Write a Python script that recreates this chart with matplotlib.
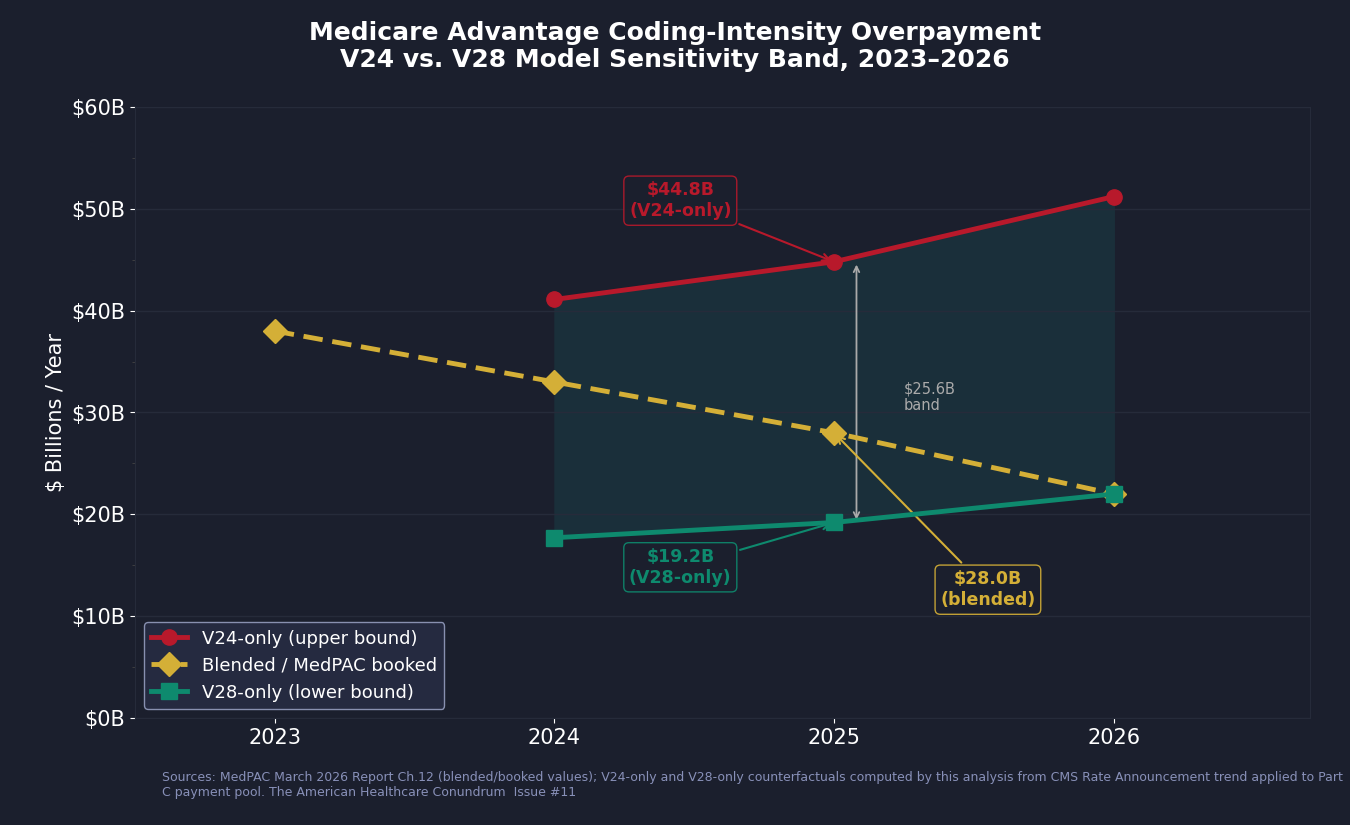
import matplotlib
matplotlib.use("Agg")
import matplotlib.pyplot as plt
from matplotlib.ticker import FuncFormatter, MultipleLocator

years_v24 = [2024, 2025, 2026]
v24 = [41.1, 44.8, 51.2]
years_bl = [2023, 2024, 2025, 2026]
blended = [38.0, 33.0, 28.0, 22.0]
years_v28 = [2024, 2025, 2026]
v28 = [17.7, 19.2, 22.0]

BG = "#1b1f2d"
RED = "#b8192b"; GOLD = "#d4af37"; GREEN = "#0e8a6e"
fig = plt.figure(figsize=(13.5, 8.25), dpi=100, facecolor=BG)
ax = fig.add_axes([0.1, 0.1297, 0.87, 0.7406], facecolor=BG)

ax.fill_between(years_v28, v28, v24, color="#1a2f3a", alpha=1.0, zorder=1)
ax.plot(years_v24, v24, color=RED, lw=3.5, marker="o", ms=11, label="V24-only (upper bound)", zorder=4)
ax.plot(years_bl, blended, color=GOLD, lw=3.5, ls=(0, (4, 2)), marker="D", ms=12, label="Blended / MedPAC booked", zorder=4)
ax.plot(years_v28, v28, color=GREEN, lw=3.5, marker="s", ms=11, label="V28-only (lower bound)", zorder=4)

ax.set_xlim(2022.5, 2026.7)
ax.set_ylim(0, 60)
ax.set_xticks([2023, 2024, 2025, 2026])
ax.yaxis.set_major_locator(MultipleLocator(10))
ax.yaxis.set_minor_locator(MultipleLocator(5))
ax.yaxis.set_major_formatter(FuncFormatter(lambda v, p: f"${v:.0f}B"))
ax.tick_params(colors="white", labelsize=15)
ax.tick_params(axis="y", which="minor", colors="#444")
ax.grid(axis="y", color="#262b3a", lw=1)
for s in ax.spines.values():
    s.set_color("#262b3a")
ax.set_ylabel("$ Billions / Year", color="white", fontsize=15)

ax.annotate("", xy=(2025.08, 19.2), xytext=(2025.08, 44.8),
            arrowprops=dict(arrowstyle="<->", color="#aaaaaa", lw=1.3))
ax.text(2025.25, 31.5, "$25.6B\nband", color="#aaaaaa", fontsize=10.5, va="center")

ax.annotate("$44.8B\n(V24-only)", xy=(2025, 44.8), xytext=(2024.45, 50.8),
            color=RED, fontsize=12.5, fontweight="bold", ha="center", va="center",
            bbox=dict(boxstyle="round,pad=0.3", fc=BG, ec=RED, alpha=0.9),
            arrowprops=dict(arrowstyle="->", color=RED, lw=1.5))
ax.annotate("$19.2B\n(V28-only)", xy=(2025, 19.2), xytext=(2024.45, 14.8),
            color=GREEN, fontsize=12.5, fontweight="bold", ha="center", va="center",
            bbox=dict(boxstyle="round,pad=0.3", fc=BG, ec=GREEN, alpha=0.9),
            arrowprops=dict(arrowstyle="->", color=GREEN, lw=1.5))
ax.annotate("$28.0B\n(blended)", xy=(2025, 28.0), xytext=(2025.55, 12.6),
            color=GOLD, fontsize=12.5, fontweight="bold", ha="center", va="center",
            bbox=dict(boxstyle="round,pad=0.3", fc=BG, ec=GOLD, alpha=0.9),
            arrowprops=dict(arrowstyle="->", color=GOLD, lw=1.5))

leg = ax.legend(loc="lower left", fontsize=13, facecolor="#252a40", edgecolor="#8890b0",
                labelcolor="white", framealpha=1)

fig.suptitle("Medicare Advantage Coding-Intensity Overpayment\nV24 vs. V28 Model Sensitivity Band, 2023–2026",
             color="white", fontsize=18, fontweight="bold", y=0.975)
fig.text(0.12, 0.035, "Sources: MedPAC March 2026 Report Ch.12 (blended/booked values); V24-only and V28-only counterfactuals computed by this analysis from CMS Rate Announcement trend applied to Part\nC payment pool. The American Healthcare Conundrum  Issue #11",
         color="#8890b8", fontsize=9)
fig.savefig("out.png", facecolor=BG)
